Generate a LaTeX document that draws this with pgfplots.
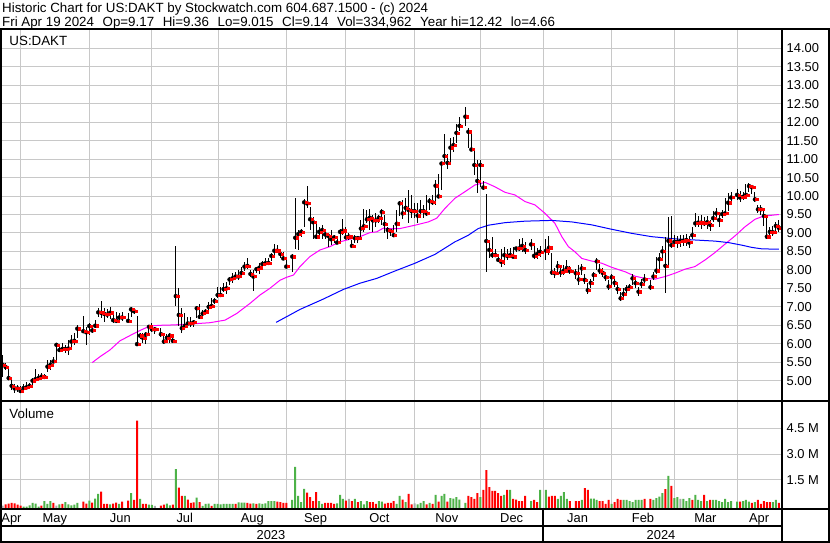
\documentclass[border=0pt]{standalone}
\usepackage{pgfplots}
\pgfplotsset{compat=1.18}
\usepackage{pgfplotstable}
\usepackage{fontspec}
\setmainfont{Liberation Sans}
\newcommand\cf{\fontsize{12.9bp}{15bp}\selectfont}
\newcommand\tf{\fontsize{13.33bp}{16bp}\selectfont}
\definecolor{gridc}{RGB}{200,200,200}
\definecolor{upg}{RGB}{77,178,72}
\definecolor{dnr}{RGB}{255,0,0}
\definecolor{neu}{RGB}{170,170,170}
\definecolor{ma1}{RGB}{255,0,255}
\definecolor{ma2}{RGB}{0,0,255}

% w = weekday index from Fri Apr 21 2023; h l c = high low close
\pgfplotstableread{
w h l c
0 5.70 5.11 5.43
1 5.47 5.29 5.37
2 5.33 5.02 5.07
3 5.04 4.75 4.86
4 4.91 4.66 4.79
5 4.88 4.70 4.79
6 4.86 4.68 4.72
7 4.91 4.70 4.80
8 4.97 4.75 4.82
9 4.93 4.79 4.86
10 5.06 4.87 5.00
11 5.31 4.97 5.04
12 5.17 5.00 5.07
13 5.22 5.02 5.11
14 5.17 5.04 5.10
15 5.56 5.24 5.38
16 5.56 5.29 5.43
17 5.65 5.49 5.52
18 6.01 5.47 5.97
19 5.94 5.78 5.83
20 6.01 5.78 5.86
21 5.97 5.74 5.86
22 6.10 5.70 5.87
23 6.24 5.92 6.06
24 6.28 5.97 6.08
25 6.51 6.15 6.41
27 6.75 6.28 6.34
28 6.46 5.98 6.31
29 6.57 6.24 6.48
30 6.51 6.28 6.36
31 6.64 6.44 6.49
32 6.98 6.73 6.85
33 7.16 6.71 6.84
34 6.96 6.60 6.81
35 6.93 6.71 6.79
36 7.00 6.66 6.84
37 6.87 6.55 6.64
38 6.87 6.55 6.62
39 6.84 6.64 6.71
40 6.87 6.61 6.71
42 6.82 6.60 6.62
43 7.00 6.73 6.93
44 6.98 6.80 6.88
45 6.75 5.94 5.99
46 6.30 6.12 6.22
47 6.28 6.01 6.16
48 6.33 6.00 6.25
49 6.51 6.28 6.46
50 6.55 6.33 6.39
51 6.46 6.26 6.39
53 6.42 6.19 6.26
54 6.24 6.00 6.06
55 6.26 6.03 6.16
56 6.28 6.01 6.22
57 6.24 6.01 6.08
58 8.64 7.02 7.29
59 7.50 6.48 6.78
60 6.96 6.30 6.42
61 6.82 6.37 6.48
62 6.73 6.46 6.55
63 6.73 6.46 6.55
64 6.64 6.46 6.58
65 7.02 6.69 6.96
66 7.09 6.66 6.73
67 6.91 6.73 6.82
68 6.93 6.78 6.87
69 7.14 6.91 7.00
70 7.23 6.96 7.02
71 7.25 7.09 7.16
72 7.55 7.23 7.32
73 7.55 7.28 7.32
74 7.64 7.39 7.48
75 7.68 7.35 7.50
76 7.80 7.59 7.74
77 7.92 7.65 7.77
78 7.95 7.73 7.82
79 8.01 7.73 7.82
80 8.09 7.82 7.92
81 8.22 7.97 8.09
82 8.31 8.03 8.11
83 8.01 7.82 7.89
84 8.01 7.43 7.82
85 8.09 7.91 8.02
86 8.18 7.89 8.06
87 8.25 8.04 8.16
88 8.31 8.13 8.18
89 8.31 8.13 8.19
90 8.45 8.25 8.38
91 8.70 8.38 8.52
92 8.67 8.45 8.52
93 8.54 8.31 8.43
94 8.49 8.27 8.31
95 8.34 8.04 8.09
97 8.42 7.95 8.36
98 9.96 8.56 8.87
99 9.08 8.54 8.97
100 9.12 8.88 9.03
101 9.91 9.16 9.83
102 10.27 9.67 9.80
103 9.71 9.08 9.37
104 9.44 8.85 9.29
105 9.30 8.83 8.90
106 9.15 8.88 9.03
107 9.21 8.83 9.08
108 9.08 8.85 8.96
109 8.99 8.63 8.92
110 9.08 8.67 8.83
111 8.95 8.73 8.88
112 8.92 8.69 8.74
113 9.12 8.79 9.03
114 9.39 8.94 9.06
115 9.17 8.83 8.88
116 8.99 8.81 8.90
117 8.81 8.63 8.65
118 8.95 8.72 8.86
119 8.92 8.74 8.86
120 9.34 8.86 9.12
121 9.64 9.03 9.18
122 9.62 9.28 9.37
123 9.64 9.08 9.41
124 9.48 9.03 9.34
125 9.53 9.15 9.34
126 9.48 9.26 9.41
127 9.64 9.21 9.57
128 9.48 8.99 9.24
129 9.17 8.83 9.08
130 9.12 8.92 9.05
131 9.21 8.88 8.94
132 9.62 9.03 9.25
133 9.86 9.47 9.80
134 9.89 9.38 9.53
135 9.95 9.48 9.68
136 10.16 9.26 9.62
137 10.03 9.41 9.59
138 9.80 9.40 9.59
139 9.80 9.26 9.47
140 9.89 9.40 9.59
141 9.75 9.41 9.59
142 10.04 9.47 9.53
143 9.95 9.62 9.86
144 10.03 9.76 9.83
145 10.43 9.77 10.28
146 10.61 9.94 9.99
147 10.93 10.16 10.88
148 11.67 10.84 11.08
149 11.15 10.73 10.90
150 11.56 10.93 11.31
151 11.60 11.20 11.38
152 11.94 11.43 11.71
153 12.15 11.76 11.90
155 12.42 11.90 12.15
156 11.83 11.29 11.74
157 11.76 11.22 11.26
158 11.24 10.57 10.84
159 10.98 10.09 10.41
160 10.98 10.25 10.84
161 10.41 10.16 10.23
162 10.05 7.93 8.78
163 8.76 8.31 8.54
164 8.89 8.31 8.40
165 8.57 8.36 8.40
166 8.42 8.22 8.27
167 8.57 8.09 8.22
168 8.63 8.13 8.40
169 8.57 8.27 8.38
170 8.60 8.31 8.40
171 8.63 8.31 8.36
172 8.63 8.49 8.58
173 8.85 8.51 8.58
174 8.87 8.49 8.65
175 8.76 8.42 8.54
177 8.85 8.55 8.69
178 8.72 8.30 8.38
179 8.60 8.30 8.43
180 8.65 8.35 8.49
182 8.85 8.27 8.52
183 8.92 8.40 8.60
184 8.45 7.85 7.93
185 8.05 7.78 7.91
186 8.25 7.88 8.10
187 8.10 7.82 7.93
188 8.12 7.85 7.98
189 8.28 7.95 8.05
190 8.10 7.88 7.97
192 8.02 7.75 7.91
193 8.13 7.59 7.74
194 8.15 7.85 8.04
195 7.90 7.62 7.73
196 7.65 7.35 7.45
197 7.75 7.50 7.65
198 7.95 7.70 7.86
199 8.31 8.00 8.23
200 8.15 7.90 7.98
201 8.05 7.80 7.92
202 7.95 7.70 7.80
203 7.72 7.45 7.55
204 7.90 7.60 7.80
205 7.82 7.55 7.65
206 7.60 7.35 7.48
207 7.40 7.17 7.23
208 7.50 7.25 7.35
209 7.60 7.38 7.48
210 7.62 7.42 7.53
211 7.88 7.60 7.77
212 7.75 7.52 7.64
213 7.55 7.29 7.41
214 7.75 7.50 7.62
215 7.88 7.60 7.74
217 7.72 7.45 7.53
218 7.95 7.72 7.82
219 8.36 7.90 7.98
220 8.45 8.00 8.29
221 8.65 8.25 8.50
222 8.90 7.37 8.11
223 9.42 8.10 8.79
224 9.45 8.60 8.67
225 8.95 8.62 8.76
226 8.92 8.60 8.76
227 8.95 8.62 8.78
228 8.95 8.65 8.79
229 8.98 8.66 8.81
230 8.92 8.60 8.74
231 9.15 8.85 8.94
232 9.55 9.15 9.26
233 9.45 9.15 9.28
234 9.50 9.10 9.28
235 9.42 9.18 9.26
236 9.45 9.10 9.29
237 9.35 9.05 9.22
238 9.60 9.30 9.40
239 9.68 9.40 9.53
240 9.55 9.15 9.35
241 9.62 9.40 9.51
242 9.95 9.45 9.53
243 10.08 9.60 9.82
244 10.10 9.80 9.96
246 10.20 9.90 10.03
247 10.15 9.85 9.96
248 10.12 9.88 9.98
249 10.32 9.92 10.03
250 10.35 10.10 10.27
251 10.30 10.05 10.24
252 10.12 9.85 9.91
253 9.75 9.55 9.64
254 9.75 9.50 9.64
255 9.60 9.20 9.46
256 9.42 8.85 8.90
257 9.15 8.92 9.03
258 9.20 8.92 9.02
259 9.30 9.00 9.19
260 9.36 9.015 9.14
}\ohlc

\begin{document}
\begin{tikzpicture}[x=1bp,y=1bp]
\useasboundingbox (0,0) rectangle (830,543);
\fill[white] (0,0) rectangle (830,543);

\begin{axis}[
  at={(2bp,142bp)}, anchor=south west, scale only axis,
  width=779.5bp, height=371bp,
  xmin=-0.23, xmax=260.9, ymin=4.4503, ymax=14.4966,
  axis line style={draw=none}, major tick length=0pt,
  xtick={6,29,49.8,72.2,95,114.7,137.8,160,181,204,225,246}, xticklabels={},
  ytick={5,5.5,6,6.5,7,7.5,8,8.5,9,9.5,10,10.5,11,11.5,12,12.5,13,13.5,14},
  yticklabels={5.00,5.50,6.00,6.50,7.00,7.50,8.00,8.50,9.00,9.50,10.00,10.50,11.00,11.50,12.00,12.50,13.00,13.50,14.00},
  yticklabel pos=right,
  yticklabel style={anchor=west, inner sep=0pt, xshift=5bp, font=\cf},
  grid=major, grid style={gridc, line width=1bp},
]
\addplot[ma1, line width=1bp, mark=none] coordinates {
(30.0,5.49) (32.6,5.65) (35.9,5.83) (39.3,6.08) (42.6,6.22) (46.0,6.36) (49.3,6.48) (52.7,6.50) (57.1,6.51) (62.1,6.53) (69.4,6.57) (74.5,6.64) (78.4,6.82) (82.8,7.09) (86.2,7.32) (89.5,7.50) (92.9,7.72) (95.1,7.80) (97.4,7.86) (99.6,8.09) (102.9,8.36) (106.3,8.54) (109.6,8.63) (113.0,8.76) (116.3,8.83) (119.7,8.90) (123.0,9.01) (125.3,9.03) (127.5,9.13) (129.7,9.12) (133.1,9.12) (138.1,9.21) (142.6,9.30) (145.4,9.40) (148.2,9.67) (151.5,9.94) (154.9,10.12) (158.2,10.30) (161.6,10.37) (164.9,10.25) (168.3,10.10) (171.6,10.03) (175.0,9.85) (178.3,9.76) (181.7,9.53) (185.0,9.26) (187.3,8.90) (189.5,8.63) (191.7,8.49) (194.0,8.31) (197.3,8.24) (200.7,8.18) (204.0,8.07) (208.5,7.95) (211.8,7.83) (215.2,7.77) (218.5,7.75) (221.9,7.82) (225.2,7.91) (228.6,8.02) (231.9,8.09) (235.3,8.27) (238.6,8.47) (242.0,8.70) (245.3,8.92) (248.7,9.17) (252.0,9.37) (254.3,9.44) (256.5,9.47) (260.0,9.50)};
\addplot[ma2, line width=1bp, mark=none] coordinates {
(91.6,6.58) (96.2,6.78) (99.6,6.93) (107.4,7.21) (114.1,7.47) (119.7,7.64) (125.3,7.77) (131.4,7.97) (138.1,8.18) (144.8,8.42) (151.5,8.76) (156.0,8.94) (159.3,9.12) (162.7,9.21) (168.3,9.28) (175.0,9.32) (183.9,9.34) (190.6,9.30) (197.3,9.22) (204.0,9.10) (210.7,8.99) (217.4,8.90) (225.2,8.84) (231.9,8.81) (238.6,8.78) (243.1,8.74) (247.6,8.67) (250.9,8.61) (254.3,8.57) (260.0,8.56)};
\addplot[only marks, mark=none, error bars/.cd, y dir=both, y explicit, error mark=none,
  error bar style={black, line width=1bp}]
  table[x=w, y=c, y error plus expr=\thisrow{h}-\thisrow{c}, y error minus expr=\thisrow{c}-\thisrow{l}] {\ohlc};
\addplot[dnr, only marks, mark=square*, mark size=1.1bp, mark options={solid, fill=dnr, draw=dnr}]
  table[x expr=\thisrow{w}+0.6, y=c] {\ohlc};
\end{axis}

\begin{axis}[
  at={(2bp,33.7bp)}, anchor=south west, scale only axis,
  width=779.5bp, height=107.3bp,
  xmin=-0.23, xmax=260.9, ymin=0, ymax=6.214,
  axis line style={draw=none}, major tick length=0pt,
  xtick={6,29,49.8,72.2,95,114.7,137.8,160,181,204,225,246}, xticklabels={},
  extra x ticks={2.95,17.5,39.4,61.0,83.6,104.8,126.2,148.8,170.5,192.6,214.5,235.4,253.4},
  extra x tick labels={Apr,May,Jun,Jul,Aug,Sep,Oct,Nov,Dec,Jan,Feb,Mar,Apr},
  extra x tick style={grid=none, major tick length=0pt,
    xticklabel style={anchor=base, inner sep=0pt, yshift=-13bp, font=\cf}},
  ytick={1.70,3.19,4.69}, yticklabels={1.5 M,3.0 M,4.5 M},
  yticklabel pos=right,
  yticklabel style={anchor=west, inner sep=0pt, xshift=5bp, font=\cf},
  grid=major, grid style={gridc, line width=1bp},
  ybar, bar width=2bp, bar shift=0pt,
]
% down days (red)
\addplot[draw=none, fill=dnr] coordinates {
(1,.29) (2,.33) (3,.37) (4,.35) (5,.27) (6,.21) (13,.21) (17,.37) (20,.31) (27,.44) (28,.33) (30,.39) (33,1.02) (34,.31) (35,.31) (37,.33) (38,.39) (40,.44) (42,.50) (44,.54) (45,5.13) (47,.31) (48,.31) (53,.21) (54,.27) (57,.27) (59,1.25) (60,.77) (62,.56) (63,.37) (64,.40) (66,.42) (70,.20) (78,.31) (82,.37) (83,.33) (85,.31) (92,.44) (93,.42) (94,.37) (95,.37) (102,.96) (103,.71) (104,.48) (105,1.00) (108,.37) (109,.37) (110,.37) (111,.31) (115,.50) (117,.48) (119,.42) (123,.42) (124,.42) (125,.31) (128,.33) (129,.37) (130,.37) (131,.48) (134,.56) (136,.89) (137,.29) (142,.29) (144,.31) (146,.44) (149,.44) (156,.77) (157,.71) (158,.60) (159,.94) (161,1.12) (162,2.27) (163,1.29) (164,1.06) (165,1.06) (166,.94) (167,.77) (169,1.12) (171,.60) (172,.56) (173,.48) (174,.48) (175,.77) (178,.54) (179,.42) (183,.73) (184,.77) (185,.77) (190,.48) (192,.48) (193,.48) (195,1.23) (196,1.12) (200,.48) (201,.48) (202,.31) (203,.54) (205,.42) (206,.60) (207,.54) (215,.60) (217,.60) (222,1.17) (224,1.35) (231,.54) (235,.83) (237,.54) (247,.44) (251,.37) (253,.54) (254,.31) (255,.48) (256,.42) (257,.42) (260,.37)};
% up days (green)
\addplot[draw=none, fill=upg] coordinates {
(7,.16) (8,.16) (9,.23) (10,.37) (11,.33) (12,.16) (14,.48) (15,.31) (16,.48) (19,.29) (21,.42) (22,.29) (23,.23) (24,.27) (25,.37) (29,.50) (31,.62) (32,.89) (36,.29) (39,.31) (43,.94) (46,.60) (49,.27) (50,.25) (55,.33) (56,.23) (58,2.33) (61,.77) (65,.67) (67,.20) (68,.31) (69,.33) (71,.31) (72,.31) (73,.29) (74,.31) (75,.31) (76,.31) (77,.31) (79,.40) (80,.39) (81,.39) (84,.35) (86,.35) (87,.31) (88,.35) (89,.48) (90,.48) (91,.48) (97,.54) (98,2.45) (99,.77) (100,.42) (101,1.18) (106,.48) (107,.31) (112,.35) (113,.83) (114,.60) (118,.60) (120,.48) (121,.29) (122,.48) (126,.48) (127,.44) (132,.31) (133,.77) (135,.42) (139,.29) (140,.37) (141,.48) (143,.37) (145,.83) (147,.77) (148,.89) (150,.65) (151,.62) (152,.71) (153,.56) (155,.37) (160,.71) (168,.83) (170,1.12) (177,.48) (180,1.12) (182,1.12) (186,.60) (187,.77) (188,1.00) (189,.60) (194,.54) (197,.62) (198,.62) (199,.54) (204,.31) (208,.54) (209,.54) (210,.48) (211,.42) (212,.54) (213,.54) (214,.54) (218,.54) (219,.65) (220,.73) (221,.94) (223,1.93) (225,.65) (226,.71) (228,.60) (229,.48) (230,.65) (232,.83) (233,.54) (234,.48) (236,.48) (238,.54) (239,.54) (240,.48) (241,.42) (242,.60) (243,.42) (244,.48) (246,.44) (248,.48) (249,.54) (250,.44) (252,.42) (258,.42) (259,.54)};
% unchanged (grey)
\addplot[draw=none, fill=neu] coordinates {
(0,.21) (18,.21) (51,.20) (116,.60) (138,.35) (227,.60)};
\end{axis}

% frame
\draw[line width=2bp] (0,513.5) -- (830,513.5);
\draw[line width=2bp] (1,0) -- (1,514.5);
\draw[line width=2bp] (781.5,0) -- (781.5,514.5);
\draw[line width=2bp] (829,0) -- (829,514.5);
\draw[line width=2bp] (0,142) -- (830,142);
\draw[line width=2bp] (0,33.5) -- (830,33.5);
\draw[line width=2bp] (0,16.5) -- (781.5,16.5);
\draw[line width=2bp] (0,1) -- (830,1);
\draw[line width=2bp] (543.3,1) -- (543.3,33.5);

% texts
\node[anchor=base west, inner sep=0pt, font=\tf] at (2,530.3) {Historic Chart for US:DAKT by Stockwatch.com 604.687.1500 - (c) 2024};
\node[anchor=base west, inner sep=0pt, font=\tf] at (2,516.3) {Fri Apr 19 2024\hspace{8.6bp}Op=9.17\hspace{8.6bp}Hi=9.36\hspace{8.6bp}Lo=9.015\hspace{8.6bp}Cl=9.14\hspace{8.6bp}Vol=334,962\hspace{8.6bp}Year hi=12.42\hspace{8.6bp}lo=4.66};
\node[anchor=base west, inner sep=0pt, font=\tf] at (9.3,497) {US:DAKT};
\node[anchor=base west, inner sep=0pt, font=\tf] at (9.3,124.7) {Volume};
\node[anchor=base, inner sep=0pt, font=\cf] at (271,3.5) {2023};
\node[anchor=base, inner sep=0pt, font=\cf] at (661,3.5) {2024};
\end{tikzpicture}
\end{document}
